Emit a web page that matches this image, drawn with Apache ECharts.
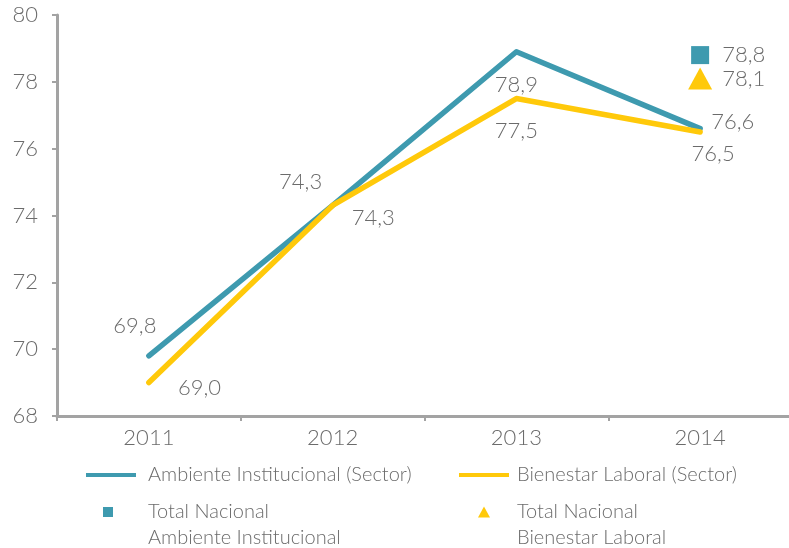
<!DOCTYPE html>
<html>
<head>
<meta charset="utf-8">
<script src="https://cdn.jsdelivr.net/npm/echarts@6/dist/echarts.min.js"></script>
<style>
	html, body { margin: 0; padding: 0; background: #fff; }
	#chart { width: 789px; height: 548px; }
</style>
</head>
<body>
<div id="chart"></div>
<script type="text/javascript">
    // datos
    var years = ['2011', '2012', '2013', '2014'];
    var ambienteSector = [69.8, 74.3, 78.9, 76.6];
    var bienestarSector = [69.0, 74.3, 77.5, 76.5];
    var totalAmbiente = [78.8];
    var totalBienestar = [78.1];
    var yTicks = [68, 70, 72, 74, 76, 78, 80];

    var blue = '#3E9AAF';
    var yellow = '#FFC90A';
    var gray = '#6b6b6b';
    var font = 'Lato';

    function fmt(v) { return v.toFixed(1).replace('.', ','); }

    // posicion de etiquetas
    var blueLabels = [
        {position: 'top', offset: [-14, -14]},
        {position: 'top', offset: [-32, -8]},
        {position: 'bottom', offset: [0, 17]},
        {position: 'right', offset: [6, -7]}
    ];
    var yellowLabels = [
        {position: 'right', offset: [24, 5]},
        {position: 'right', offset: [14, 12]},
        {position: 'bottom', offset: [0, 16]},
        {position: 'bottom', offset: [13, 6]}
    ];

    function build(values, labels) {
        return values.map(function (v, i) {
            return {value: v, label: labels[i]};
        });
    }

    var labelStyle = {
        show: true, color: gray, fontSize: 22, fontFamily: font, fontWeight: 300,
        formatter: function (p) { return fmt(p.value instanceof Array ? p.value[1] : p.value); }
    };
    var legendText = {color: gray, fontSize: 20, fontFamily: font, fontWeight: 300};

    var myChart = echarts.init(document.getElementById('chart'));
    var option = {
        animation: false,
        grid: {left: 57, width: 735, top: 15, bottom: 132, outerBoundsMode: 'none'},
        legend: [
            {
                data: [{name: 'Ambiente Institucional (Sector)', icon: 'rect'}],
                left: 86, top: 465, itemWidth: 50, itemHeight: 4, padding: 0,
                textStyle: Object.assign({padding: [0, 0, 0, 7]}, legendText)
            },
            {
                data: [{name: 'Bienestar Laboral (Sector)', icon: 'rect'}],
                left: 459, top: 465, itemWidth: 50, itemHeight: 4, padding: 0,
                textStyle: Object.assign({padding: [0, 0, 0, 3]}, legendText)
            },
            {
                data: [{name: 'Total Nacional\nAmbiente Institucional', icon: 'rect'}],
                left: 103, top: 473, itemWidth: 10, itemHeight: 10, padding: 0,
                formatter: function (name) { return '\n' + name; },
                textStyle: Object.assign({lineHeight: 26, padding: [0, 0, 0, 30]}, legendText)
            },
            {
                data: [{name: 'Total Nacional\nBienestar Laboral', icon: 'triangle'}],
                left: 478, top: 473, itemWidth: 12, itemHeight: 11, padding: 0,
                formatter: function (name) { return '\n' + name; },
                textStyle: Object.assign({lineHeight: 26, padding: [0, 0, 0, 22]}, legendText)
            }
        ],
        xAxis: {
            type: 'category',
            data: years,
            boundaryGap: true,
            axisLine: {lineStyle: {color: '#a3a3a3', width: 3}},
            axisTick: {show: true, length: 5, lineStyle: {color: '#a3a3a3', width: 2}},
            axisLabel: {color: gray, fontSize: 22, fontFamily: font, fontWeight: 300, margin: 11}
        },
        yAxis: {
            type: 'value',
            min: yTicks[0], max: yTicks[yTicks.length - 1], interval: 2,
            splitLine: {show: false},
            axisLine: {show: true, lineStyle: {color: '#a3a3a3', width: 3}},
            axisTick: {show: true, length: 5, lineStyle: {color: '#a3a3a3', width: 2}},
            axisLabel: {color: gray, fontSize: 22, fontFamily: font, fontWeight: 300, margin: 19}
        },
        series: [
            {
                name: 'Ambiente Institucional (Sector)',
                type: 'line',
                data: build(ambienteSector, blueLabels),
                symbol: 'circle', symbolSize: 0, showSymbol: true,
                itemStyle: {color: blue},
                lineStyle: {color: blue, width: 5.5, cap: 'round', join: 'round'},
                label: labelStyle,
                z: 3
            },
            {
                name: 'Bienestar Laboral (Sector)',
                type: 'line',
                data: build(bienestarSector, yellowLabels),
                symbol: 'circle', symbolSize: 0, showSymbol: true,
                itemStyle: {color: yellow},
                lineStyle: {color: yellow, width: 5.5, cap: 'round', join: 'round'},
                label: labelStyle,
                z: 4
            },
            {
                name: 'Total Nacional\nAmbiente Institucional',
                type: 'scatter',
                data: totalAmbiente.map(function (v) { return [years[3], v]; }),
                symbol: 'rect', symbolSize: 18,
                itemStyle: {color: blue, opacity: 1},
                label: Object.assign({}, labelStyle, {position: 'right', distance: 13})
            },
            {
                name: 'Total Nacional\nBienestar Laboral',
                type: 'scatter',
                data: totalBienestar.map(function (v) { return [years[3], v]; }),
                symbol: 'triangle', symbolSize: [24, 22],
                itemStyle: {color: yellow, opacity: 1},
                label: Object.assign({}, labelStyle, {position: 'right', distance: 10})
            }
        ]
    };
    myChart.setOption(option);
</script>
</body>
</html>
